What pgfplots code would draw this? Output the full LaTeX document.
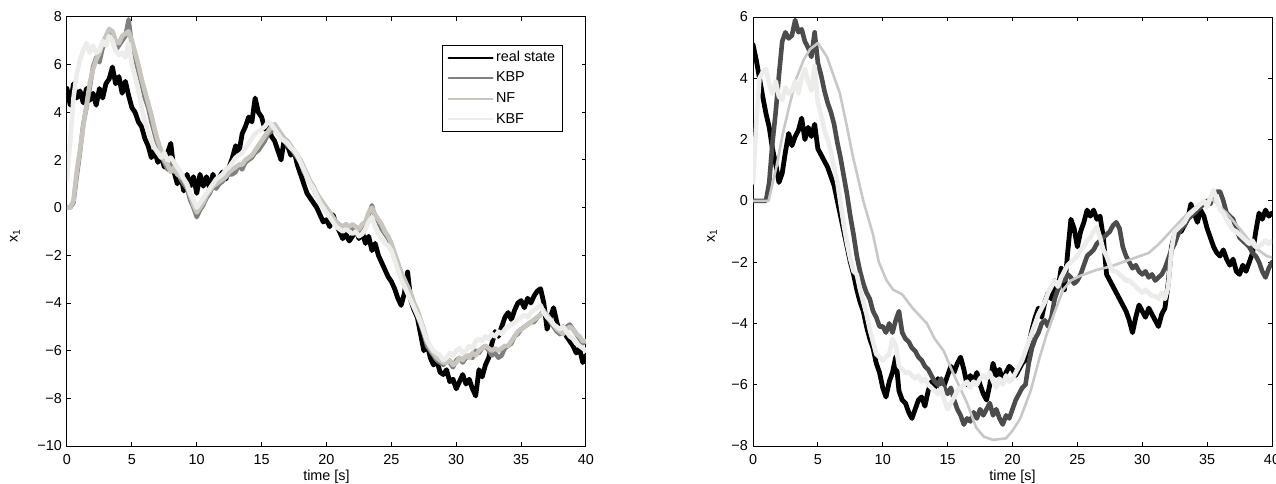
\documentclass[border=0pt]{standalone}
\usepackage{fontspec}
\setmainfont{Liberation Sans}
\usepackage{pgfplots}
\usepackage{pgfplotstable}
\pgfplotsset{compat=1.18}
\definecolor{kbpL}{gray}{0.5}
\definecolor{kbpR}{gray}{0.3}
\definecolor{nfc}{RGB}{200,197,190}
\definecolor{nfr}{RGB}{200,200,200}
\definecolor{kbfc}{RGB}{236,236,234}

\pgfplotstableread{
t real kbp nf kbf
0 5.0 0 0 1.2
0.25 4.3 0 0 2.8
0.5 5.2 0.2 0.3 4.6
0.75 4.6 1.3 1.5 5.6
1 4.9 2.3 2.4 6.2
1.25 4.4 3.5 3.4 6.6
1.5 5.0 4.2 4.3 6.9
1.75 4.5 5.0 5.2 6.5
2 4.8 5.9 5.8 6.8
2.25 4.3 6.3 6.2 6.5
2.5 5.0 6.1 6.5 6.6
2.75 4.6 6.7 6.9 7.0
3 5.2 7.0 7.2 6.8
3.25 5.4 7.4 7.5 7.2
3.5 5.9 7.1 7.4 7.0
3.75 5.2 6.6 7.0 6.6
4 5.5 6.8 6.9 6.4
4.25 4.8 7.0 7.2 6.5
4.5 5.3 7.2 7.3 6.3
4.75 4.7 7.9 7.4 6.9
5 4.2 6.8 7.0 6.0
5.25 4.0 6.3 6.5 5.5
5.5 3.6 5.7 6.0 4.9
5.75 3.4 5.2 5.4 4.2
6 2.9 4.6 4.9 3.6
6.25 2.6 4.2 4.4 3.2
6.5 2.1 3.6 3.9 2.8
6.75 2.4 3.1 3.3 2.5
7 1.9 2.6 2.8 2.3
7.25 2.2 2.2 2.4 2.1
7.5 1.7 1.9 2.0 2.3
7.75 2.3 1.6 1.8 2.0
8 2.7 1.8 1.5 2.1
8.25 1.5 1.5 1.7 1.9
8.5 1.0 1.6 1.4 1.7
8.75 1.4 1.2 1.3 1.5
9 0.7 1.0 1.2 1.2
9.25 1.4 0.8 0.9 1.0
9.5 0.9 0.3 0.5 0.6
9.75 1.3 0.0 0.1 0.3
10 0.6 -0.4 -0.2 0.0
10.25 1.4 -0.1 0.0 0.2
10.5 0.9 0.1 0.2 0.4
10.75 1.3 0.4 0.5 0.6
11 0.8 0.6 0.7 0.8
11.25 1.4 0.9 0.9 1.0
11.5 1.0 0.8 1.0 1.2
11.75 1.3 1.0 1.1 1.3
12 1.5 1.1 1.2 1.4
12.25 1.2 1.3 1.3 1.6
12.5 1.7 1.4 1.5 1.7
12.75 2.1 1.4 1.6 1.9
13 2.6 1.5 1.7 2.1
13.25 2.3 1.8 1.8 2.2
13.5 3.1 1.6 1.8 2.3
13.75 3.4 1.9 2.0 2.5
14 3.8 2.0 2.1 2.7
14.25 3.6 2.1 2.2 2.9
14.5 4.6 2.3 2.4 3.1
14.75 4.0 2.4 2.6 3.2
15 3.8 2.6 2.8 3.3
15.25 3.3 2.8 3.0 3.4
15.5 3.5 3.1 3.2 3.6
15.75 3.0 3.2 3.4 3.5
16 2.8 3.4 3.5 3.3
16.25 2.4 3.1 3.3 3.1
16.5 2.0 3.0 3.1 2.9
16.75 2.9 2.8 2.9 2.8
17 2.6 2.6 2.8 2.7
17.25 2.2 2.5 2.6 2.5
17.5 2.4 2.3 2.4 2.4
17.75 1.8 2.1 2.2 2.2
18 1.4 1.9 2.0 1.9
18.25 1.0 1.5 1.7 1.6
18.5 0.6 1.3 1.4 1.3
18.75 0.4 1.0 1.1 1.0
19 0.2 0.8 0.9 0.8
19.25 0.0 0.5 0.6 0.5
19.5 -0.3 0.3 0.4 0.2
19.75 -0.6 0.1 0.2 0.0
20 -0.5 -0.1 0.0 -0.2
20.25 -0.8 -0.3 -0.2 -0.4
20.5 -0.3 -0.5 -0.4 -0.6
20.75 -0.7 -0.7 -0.6 -0.8
21 -1.0 -0.8 -0.7 -0.9
21.25 -1.3 -0.9 -0.8 -1.0
21.5 -1.1 -0.7 -0.7 -0.9
21.75 -1.4 -0.9 -0.8 -1.0
22 -1.2 -0.8 -0.7 -1.1
22.25 -0.9 -0.9 -0.8 -1.0
22.5 -1.3 -1.0 -0.9 -1.2
22.75 -1.0 -0.8 -0.7 -1.1
23 -1.5 -0.7 -0.6 -0.9
23.25 -1.2 -0.3 -0.2 -0.6
23.5 -1.8 0.1 0.0 -0.4
23.75 -1.5 -0.4 -0.3 -0.8
24 -2.0 -0.6 -0.5 -1.1
24.25 -2.3 -0.9 -0.7 -1.3
24.5 -2.6 -1.1 -1.0 -1.5
24.75 -2.9 -1.3 -1.2 -1.6
25 -3.1 -1.6 -1.5 -1.8
25.25 -3.4 -2.0 -1.9 -2.2
25.5 -3.8 -2.4 -2.3 -2.6
25.75 -4.1 -2.8 -2.7 -3.0
26 -3.6 -3.1 -3.0 -3.3
26.25 -2.7 -3.5 -3.3 -3.6
26.5 -3.9 -3.8 -3.6 -3.9
26.75 -4.3 -4.1 -4.0 -4.2
27 -4.6 -4.5 -4.3 -4.5
27.25 -5.3 -4.9 -4.7 -4.8
27.5 -6.0 -5.3 -5.1 -5.2
27.75 -5.7 -5.8 -5.6 -5.6
28 -6.3 -6.0 -5.9 -5.8
28.25 -6.6 -6.2 -6.1 -6.0
28.5 -6.4 -6.4 -6.3 -6.1
28.75 -6.9 -6.5 -6.4 -6.2
29 -7.0 -6.6 -6.5 -6.4
29.25 -6.8 -6.4 -6.5 -6.3
29.5 -7.3 -6.5 -6.4 -6.1
29.75 -7.2 -6.7 -6.6 -6.2
30 -7.6 -6.4 -6.5 -6.0
30.25 -7.3 -6.3 -6.3 -5.9
30.5 -7.0 -6.5 -6.4 -6.1
30.75 -7.4 -6.3 -6.2 -6.0
31 -7.2 -6.2 -6.3 -5.8
31.25 -7.6 -6.3 -6.1 -5.9
31.5 -7.9 -6.0 -6.2 -5.6
31.75 -6.8 -6.1 -6.0 -5.5
32 -7.1 -5.9 -5.9 -5.6
32.25 -6.6 -5.8 -5.8 -5.4
32.5 -6.3 -6.0 -5.9 -5.5
32.75 -5.7 -6.2 -6.0 -5.3
33 -5.2 -6.1 -5.9 -5.4
33.25 -5.4 -6.3 -6.0 -5.2
33.5 -5.0 -6.2 -5.9 -5.3
33.75 -4.6 -5.9 -5.8 -5.1
34 -4.4 -5.8 -5.8 -5.0
34.25 -4.7 -5.7 -5.6 -4.9
34.5 -4.3 -5.4 -5.4 -4.8
34.75 -4.0 -5.3 -5.2 -4.7
35 -3.9 -5.1 -5.1 -4.6
35.25 -4.2 -5.0 -5.0 -4.5
35.5 -3.8 -4.9 -4.9 -4.6
35.75 -4.0 -4.8 -4.8 -4.4
36 -3.7 -4.8 -4.7 -4.3
36.25 -3.5 -4.6 -4.6 -4.2
36.5 -3.4 -4.5 -4.5 -4.1
36.75 -4.0 -4.3 -4.4 -4.4
37 -5.1 -4.6 -4.5 -4.6
37.25 -4.6 -4.8 -4.7 -4.7
37.5 -4.2 -5.0 -4.9 -4.9
37.75 -4.8 -5.2 -5.1 -5.0
38 -5.3 -5.3 -5.2 -5.1
38.25 -5.0 -5.2 -5.3 -5.0
38.5 -5.4 -5.0 -5.1 -5.2
38.75 -5.6 -4.9 -5.0 -5.4
39 -5.8 -5.1 -5.1 -5.5
39.25 -6.1 -5.3 -5.3 -5.7
39.5 -5.9 -5.5 -5.4 -5.8
39.75 -6.5 -5.7 -5.6 -5.9
40 -6.2 -5.6 -5.6 -6.0
}\leftdata

\pgfplotstableread{
t real kbp kbf
0 5.1 0 0.6
0.25 4.6 0 2.5
0.5 4.0 0 4.0
0.75 3.4 0 4.2
1 2.85 0 4.3
1.25 2.4 0.6 3.8
1.5 1.7 1.9 3.5
1.75 1.2 2.9 3.9
2 0.6 4.1 3.4
2.25 0.9 5.2 3.3
2.5 1.6 5.5 3.7
2.75 2.2 5.3 3.5
3 1.8 5.4 3.6
3.25 2.1 5.9 3.9
3.5 2.3 5.5 3.5
3.75 2.7 5.6 4.0
4 2.0 5.2 4.3
4.25 2.4 5.0 3.9
4.5 2.1 4.7 3.6
4.75 2.5 5.5 4.4
5 1.7 4.5 3.2
5.25 1.5 4.1 2.8
5.5 1.3 3.6 2.3
5.75 1.1 3.2 2.0
6 0.8 2.9 1.6
6.25 0.5 2.5 1.1
6.5 0.0 1.9 0.6
6.75 -0.5 1.4 -0.1
7 -1.0 0.8 -0.8
7.25 -1.5 0.2 -1.4
7.5 -2.0 -0.5 -1.9
7.75 -2.4 -1.1 -2.3
8 -2.9 -1.8 -2.4
8.25 -3.3 -2.3 -2.9
8.5 -3.6 -2.7 -3.3
8.75 -4.1 -3.0 -3.7
9 -4.5 -3.2 -4.2
9.25 -4.8 -3.6 -4.6
9.5 -5.3 -3.8 -5.0
9.75 -5.6 -4.1 -5.1
10 -6.1 -4.1 -5.2
10.25 -6.4 -4.3 -5.1
10.5 -5.9 -4.0 -5.0
10.75 -5.6 -4.3 -4.5
11 -5.1 -3.9 -4.7
11.25 -6.2 -3.6 -5.4
11.5 -6.5 -4.3 -5.5
11.75 -6.6 -4.5 -5.6
12 -6.9 -4.6 -5.6
12.25 -7.1 -4.8 -5.7
12.5 -6.8 -4.9 -5.8
12.75 -6.5 -5.1 -5.7
13 -6.4 -5.2 -5.9
13.25 -6.7 -5.4 -5.8
13.5 -6.2 -5.5 -6.0
13.75 -5.9 -5.7 -6.1
14 -6.1 -5.9 -6.2
14.25 -5.8 -6.0 -6.3
14.5 -6.2 -5.8 -6.1
14.75 -6.0 -6.1 -6.5
15 -5.7 -6.3 -6.8
15.25 -5.4 -6.1 -6.6
15.5 -5.6 -6.5 -6.4
15.75 -5.3 -6.8 -6.2
16 -5.1 -7.0 -6.1
16.25 -5.5 -7.3 -6.0
16.5 -6.0 -7.1 -5.9
16.75 -5.7 -7.2 -6.1
17 -5.9 -6.9 -5.9
17.25 -5.6 -7.1 -6.0
17.5 -6.0 -6.8 -5.8
17.75 -6.3 -7.0 -5.7
18 -6.5 -6.8 -5.8
18.25 -6.0 -6.6 -5.6
18.5 -5.3 -7.0 -5.9
18.75 -5.7 -6.8 -6.1
19 -5.5 -7.1 -5.8
19.25 -5.9 -7.3 -6.0
19.5 -5.6 -7.0 -5.7
19.75 -5.4 -7.1 -5.9
20 -5.5 -6.8 -5.8
20.25 -5.7 -6.5 -5.6
20.5 -5.5 -6.3 -5.4
20.75 -5.3 -6.1 -5.2
21 -5.2 -6.0 -4.9
21.25 -4.7 -5.3 -4.6
21.5 -4.2 -4.8 -4.3
21.75 -3.8 -4.5 -4.0
22 -3.5 -4.3 -3.7
22.25 -3.8 -4.0 -3.5
22.5 -3.3 -3.9 -3.3
22.75 -3.0 -4.1 -3.0
23 -3.2 -3.8 -2.8
23.25 -2.6 -3.2 -2.6
23.5 -2.9 -2.9 -2.8
23.75 -2.2 -2.6 -2.5
24 -2.9 -2.6 -2.3
24.25 -1.7 -2.4 -2.1
24.5 -0.6 -2.5 -2.0
24.75 -0.9 -2.7 -1.9
25 -1.5 -2.6 -1.8
25.25 -1.0 -2.4 -1.6
25.5 -0.7 -2.1 -1.5
25.75 -0.3 -1.8 -1.3
26 -0.5 -1.7 -1.2
26.25 -0.3 -1.6 -1.0
26.5 -0.6 -1.4 -0.85
26.75 -0.5 -1.3 -1.2
27 -1.2 -1.2 -1.6
27.25 -2.4 -1.1 -1.8
27.5 -2.6 -1.0 -2.1
27.75 -2.8 -0.8 -2.3
28 -3.0 -0.7 -2.3
28.25 -3.2 -0.9 -2.4
28.5 -3.4 -1.5 -2.5
28.75 -3.6 -1.8 -2.6
29 -3.9 -2.0 -2.6
29.25 -4.3 -2.2 -2.7
29.5 -3.8 -2.1 -2.8
29.75 -3.4 -2.3 -2.9
30 -3.6 -2.4 -3.0
30.25 -3.8 -2.3 -2.9
30.5 -3.5 -2.5 -3.0
30.75 -3.7 -2.4 -3.1
31 -3.9 -2.6 -3.1
31.25 -4.1 -2.5 -3.2
31.5 -3.7 -2.4 -3.0
31.75 -3.5 -2.2 -3.2
32 -2.7 -1.9 -2.8
32.25 -1.5 -1.6 -1.6
32.5 -1.1 -1.4 -1.0
32.75 -0.9 -1.1 -0.9
33 -1.0 -0.9 -0.8
33.25 -0.8 -0.8 -0.7
33.5 -0.6 -0.6 -0.5
33.75 -0.1 -0.5 -0.4
34 -0.4 -0.4 -0.3
34.25 -0.7 -0.3 -0.2
34.5 -0.3 -0.2 -0.1
34.75 -0.5 -0.1 0.0
35 -0.9 0.0 -0.2
35.25 -1.2 -0.1 0.1
35.5 -1.5 0.2 0.35
35.75 -1.7 0.3 0.0
36 -1.8 0.3 -0.3
36.25 -1.6 0.0 -0.4
36.5 -1.9 -0.4 -0.6
36.75 -2.1 -0.5 -0.8
37 -1.9 -0.6 -0.95
37.25 -2.3 -0.9 -1.0
37.5 -2.4 -1.2 -1.1
37.75 -2.1 -1.3 -1.2
38 -2.3 -1.4 -1.3
38.25 -2.0 -1.5 -1.4
38.5 -1.7 -1.7 -1.3
38.75 -1.0 -1.8 -1.5
39 -0.4 -2.0 -1.5
39.25 -0.6 -2.3 -1.4
39.5 -0.3 -2.5 -1.3
39.75 -0.5 -2.2 -1.4
40 -0.4 -2.0 -1.3
}\rightdata

\pgfplotsset{
  mystyle/.style={
    scale only axis,
    width=259.5pt, height=214.5pt,
    anchor=south west,
    xmin=0, xmax=40,
    xtick={0,5,...,40},
    tick pos=both,
    tick align=inside,
    major tick length=2pt,
    axis line style={line width=0.5pt},
    tick style={black, line width=0.5pt},
    /pgf/number format/assume math mode=true,
    xticklabel style={yshift=-1.5pt},
    xlabel={time [s]},
    xlabel style={at={(axis description cs:0.5,0)}, anchor=center, yshift=-15.5pt},
    ylabel={x\textsubscript{1}},
    every axis plot/.append style={line join=round, line cap=round},
    legend image code/.code={\draw[##1, line width=1pt] (0pt,0pt) -- (22pt,0pt);},
  }
}

\begin{document}
\fontsize{7.2}{8.6}\selectfont
\begin{tikzpicture}[x=1pt,y=1pt]
\begin{axis}[mystyle,
  at={(33.5pt,18.5pt)},
  ymin=-10, ymax=8,
  ytick={-10,-8,...,8},
  yticklabels={−10,−8,−6,−4,−2,0,2,4,6,8},
  ylabel style={at={(axis description cs:0,0.5)}, anchor=center, yshift=26pt, xshift=-2pt},
  legend style={at={(rel axis cs:0.956,0.935)}, anchor=north east,
    draw=black, line width=0.5pt, fill=white,
    inner xsep=2.5pt, inner ysep=1.5pt, row sep=1pt,
    nodes={inner sep=1.2pt, text height=5.3pt, text depth=1.6pt},
    cells={anchor=west}},
]
\addplot[black, line width=2.4pt] table[x=t, y=real] {\leftdata};
\addlegendentry{real state}
\addplot[kbpL, line width=2.2pt] table[x=t, y=kbp] {\leftdata};
\addlegendentry{KBP}
\addplot[nfc, line width=2.3pt] table[x=t, y=nf] {\leftdata};
\addlegendentry{NF}
\addplot[kbfc, line width=2.3pt] table[x=t, y=kbf] {\leftdata};
\addlegendentry{KBF}
\end{axis}

\begin{axis}[mystyle,
  at={(376.5pt,18.5pt)},
  ymin=-8, ymax=6,
  ytick={-8,-6,...,6},
  yticklabels={−8,−6,−4,−2,0,2,4,6},
  ylabel style={at={(axis description cs:0,0.5)}, anchor=center, yshift=20.5pt, xshift=-2pt},
]
\addplot[black, line width=2.4pt] table[x=t, y=real] {\rightdata};
\addplot[kbpR, line width=2.3pt] table[x=t, y=kbp] {\rightdata};
\addplot[nfr, line width=1.3pt] coordinates {
(0,0) (1.2,0) (1.8,1.1) (2.3,2.2) (2.8,3.1) (3.3,3.95) (3.9,4.6) (4.4,4.95)
(5.0,5.15) (5.7,4.7) (6.2,4.1) (6.7,3.5) (7.2,2.5) (7.7,1.45) (8.5,0)
(9.25,-1.1) (9.7,-2.0) (10.3,-2.6) (10.8,-2.9) (11.5,-3.05) (12.3,-3.5)
(13.4,-4.0) (14.0,-4.5) (14.7,-4.9) (15.4,-5.6) (16.5,-6.6) (17.2,-7.4)
(17.8,-7.7) (18.5,-7.8) (19.5,-7.75) (20.0,-7.5) (20.6,-7.1) (21.4,-6.2)
(22.1,-5.1) (22.6,-4.4) (23.1,-3.8) (23.9,-2.9) (24.5,-2.6) (25.2,-2.45)
(26.5,-2.25) (27.5,-2.15) (28.5,-2.0) (29.5,-1.85) (30.5,-1.7) (31.3,-1.4)
(32.4,-0.9) (33.4,-0.45) (34.4,-0.1) (35.4,0.05) (36.5,-0.4) (37.6,-0.95)
(38.6,-1.5) (39.6,-1.8) (40,-1.85)
};
\addplot[kbfc, line width=2.3pt] table[x=t, y=kbf] {\rightdata};
\end{axis}
\pgfresetboundingbox
\path[use as bounding box] (0,0) rectangle (638,241.5);
\end{tikzpicture}
\end{document}
